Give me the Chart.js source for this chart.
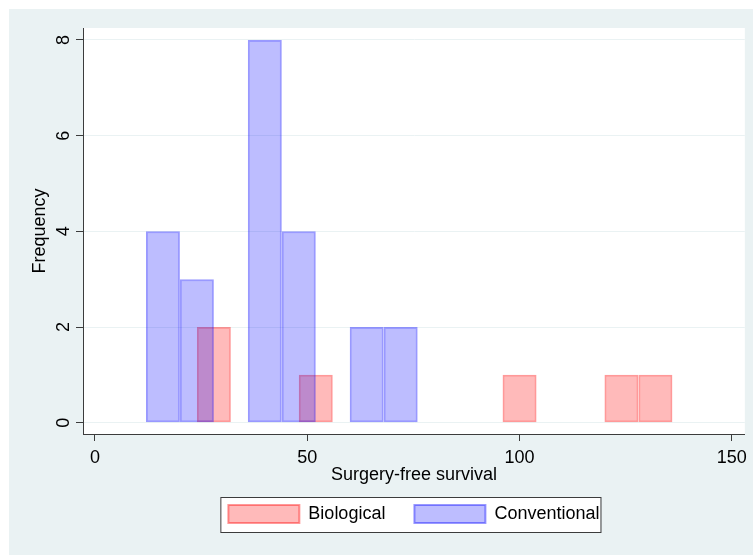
<!DOCTYPE html>
<html>
<head>
<meta charset="utf-8">
<title>Surgery-free survival</title>
<script src="https://cdn.jsdelivr.net/npm/chart.js@4"></script>
<style>
  html, body { margin: 0; padding: 0; background: #fff; }
</style>
</head>
<body>
<canvas id="histChart" width="753" height="555"></canvas>
<script>
// Histogram bins (start of each bin) and their frequencies
const binWidth = 8;
const bioBinStarts = [24, 48, 96, 120, 128];
const bioCounts = [2, 1, 1, 1, 1];
const convBinStarts = [12, 20, 36, 44, 60, 68];
const convCounts = [4, 3, 8, 4, 2, 2];
const xTicks = [0, 50, 100, 150];
const yTicks = [0, 2, 4, 6, 8];

const FONT = '"Liberation Sans", Arial, sans-serif';
const AXIS_COLOR = '#3c3c3c';

function toBars(starts, counts) {
  return starts.map((s, i) => ({ x: s + binWidth / 2, y: counts[i] }));
}

// Stata-like background: light blue-grey graph region, white plot region, legend frame
const backgroundPlugin = {
  id: 'stataBackground',
  beforeDraw(chart) {
    const { ctx, chartArea: a, width, height } = chart;
    ctx.save();
    ctx.fillStyle = '#ffffff';
    ctx.fillRect(0, 0, width, height);
    ctx.fillStyle = '#eaf2f3';
    ctx.fillRect(9, 9, width - 9, height - 9);
    ctx.fillStyle = '#ffffff';
    ctx.fillRect(a.left, a.top, a.right - a.left, a.bottom - a.top);

    const boxes = chart.legend && chart.legend.legendHitBoxes;
    if (boxes && boxes.length) {
      const first = boxes[0];
      const last = boxes[boxes.length - 1];
      const left = first.left - 8;
      const top = first.top - 8;
      const right = last.left + last.width + 1;
      const bottom = first.top + first.height + 9;
      ctx.fillStyle = '#ffffff';
      ctx.fillRect(left, top, right - left, bottom - top);
      ctx.strokeStyle = AXIS_COLOR;
      ctx.lineWidth = 1;
      ctx.strokeRect(left + 0.5, top + 0.5, right - left, bottom - top);
    }
    ctx.restore();
  }
};

Chart.defaults.font.family = FONT;
Chart.defaults.font.size = 18;
Chart.defaults.color = '#000';

const ctx = document.getElementById('histChart').getContext('2d');
new Chart(ctx, {
  type: 'bar',
  data: {
    datasets: [
      {
        label: 'Biological',
        data: toBars(bioBinStarts, bioCounts),
        backgroundColor: 'rgba(255, 0, 0, 0.27)',
        borderColor: 'rgba(255, 0, 0, 0.40)',
        borderWidth: 2,
        borderSkipped: false,
        order: 1
      },
      {
        label: 'Conventional',
        data: toBars(convBinStarts, convCounts),
        backgroundColor: 'rgba(0, 0, 255, 0.26)',
        borderColor: 'rgba(0, 0, 255, 0.40)',
        borderWidth: 2,
        borderSkipped: false,
        order: 0
      }
    ]
  },
  options: {
    responsive: false,
    animation: false,
    events: [],
    grouped: false,
    barPercentage: 1,
    // bins are 8 wide while the closest bin centres (across both series) are 4 apart
    categoryPercentage: 2,
    layout: { padding: { left: 0, top: 28, right: 7, bottom: 22 } },
    plugins: {
      tooltip: { enabled: false },
      legend: {
        position: 'bottom',
        fullSize: false,
        labels: {
          sort: (a, b) => a.datasetIndex - b.datasetIndex,
          boxWidth: 71,
          boxHeight: 18,
          padding: 29,
          color: '#000',
          font: { family: FONT, size: 18 }
        }
      }
    },
    scales: {
      x: {
        type: 'linear',
        offset: false,
        min: -2.82,
        max: 153.06,
        afterBuildTicks: (scale) => { scale.ticks = xTicks.map(v => ({ value: v })); },
        afterFit: (scale) => { scale.height = 42; },
        ticks: { padding: 6, color: '#000', font: { size: 18 } },
        grid: { offset: false, drawOnChartArea: false, tickLength: 7, tickColor: AXIS_COLOR, tickWidth: 1 },
        border: { color: AXIS_COLOR, width: 1 },
        title: {
          display: true,
          text: 'Surgery-free survival',
          color: '#000',
          font: { size: 18 },
          padding: { top: 0, bottom: -10 }
        }
      },
      y: {
        type: 'linear',
        min: -0.236,
        max: 8.25,
        afterBuildTicks: (scale) => { scale.ticks = yTicks.map(v => ({ value: v })); },
        afterFit: (scale) => { scale.width = 83; },
        ticks: {
          padding: 7,
          minRotation: 90,
          maxRotation: 90,
          crossAlign: 'center',
          color: '#000',
          font: { size: 18 }
        },
        grid: { color: '#eaf2f3', lineWidth: 1, tickLength: 7, tickColor: AXIS_COLOR, tickWidth: 1 },
        border: { color: AXIS_COLOR, width: 1 },
        title: {
          display: true,
          text: 'Frequency',
          color: '#000',
          font: { size: 18 },
          padding: { top: 29, bottom: 0 }
        }
      }
    }
  },
  plugins: [backgroundPlugin]
});
</script>
</body>
</html>
